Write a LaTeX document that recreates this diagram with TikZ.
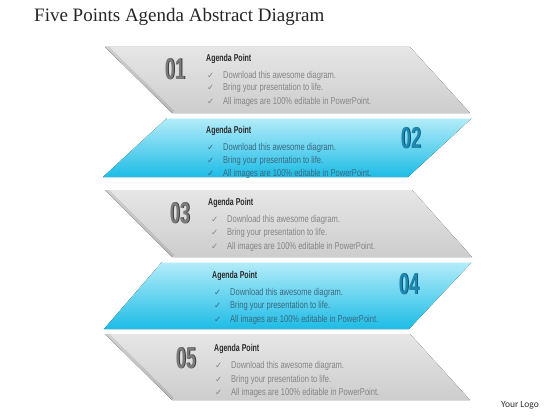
\documentclass[tikz,border=0pt]{standalone}
\usepackage{fontspec}
\setmainfont{Liberation Serif}
\newfontfamily\cond[FakeStretch=0.76]{Liberation Sans}
\newfontfamily\condb[FakeStretch=0.7]{Liberation Sans Bold}
\newfontfamily\numf[FakeStretch=0.6]{Liberation Sans Bold}
\newfontfamily\symf{DejaVu Sans}
\newfontfamily\logof{Carlito}
\definecolor{grayA}{HTML}{E6E6E6}
\definecolor{grayB}{HTML}{CDCDCD}
\definecolor{blueA}{HTML}{B4ECF9}
\definecolor{blueB}{HTML}{1DBCE6}
\definecolor{numgray}{HTML}{7A7A7A}
\definecolor{numgrayd}{HTML}{3E3E3E}
\definecolor{numblue}{HTML}{1E88B0}
\definecolor{numblued}{HTML}{0F5573}
\definecolor{txtgray}{HTML}{858585}
\definecolor{txtblue}{HTML}{3A6A80}
\definecolor{headc}{HTML}{2A2A2A}
\tikzset{
  x=1pt,y=-1pt,
  grayband/.style={top color=grayA,bottom color=grayB,draw=none},
  blueband/.style={top color=blueA,bottom color=blueB,draw=none},
  head/.style={anchor=base west,inner sep=0pt,font=\condb\fontsize{10}{11}\selectfont,text=headc},
  item/.style={anchor=base west,inner sep=0pt,font=\cond\fontsize{9.9}{11}\selectfont},
  chk/.style={anchor=base west,inner sep=0pt,font=\symf\fontsize{8.5}{9}\selectfont},
  numtxt/.style={anchor=center,inner sep=0pt,font=\numf\fontsize{30}{31}\selectfont}
}
\begin{document}
\begin{tikzpicture}
\useasboundingbox[fill=white] (0,0) rectangle (560,420);
% title
\node[anchor=west,inner sep=0pt,font=\fontsize{19}{20}\selectfont,text=black!85] (title) at (34,17) {Five Points Agenda Abstract Diagram};
% bands
\fill[grayband] (105,47) -- (410,47) -- (470,113) -- (172,113) -- cycle;
\fill[blueband] (167,118) -- (472,118) -- (408,177) -- (103,177) -- cycle;
\fill[grayband] (105,190) -- (412,190) -- (472,257) -- (172,257) -- cycle;
\fill[blueband] (162,262) -- (472,262) -- (409,329) -- (104,329) -- cycle;
\fill[grayband] (105,334) -- (410,334) -- (470,400) -- (172,400) -- cycle;
% shadows along gray left edges
\begin{scope}
\clip (105,47) -- (410,47) -- (470,113) -- (172,113) -- cycle;
\draw[line width=6pt,black,opacity=0.1] (105,47) -- (172,113);
\end{scope}
\begin{scope}
\clip (105,190) -- (412,190) -- (472,257) -- (172,257) -- cycle;
\draw[line width=6pt,black,opacity=0.1] (105,190) -- (172,257);
\end{scope}
\begin{scope}
\clip (105,334) -- (410,334) -- (470,400) -- (172,400) -- cycle;
\draw[line width=6pt,black,opacity=0.1] (105,334) -- (172,400);
\end{scope}
% blue top highlight lines
\draw[white,opacity=0.6,line width=1pt] (167,118.5) -- (472,118.5);
\draw[white,opacity=0.6,line width=1pt] (162,262.5) -- (472,262.5);
% numbers (dark edge copy, then face)
\node[numtxt,text=numgrayd] (s1) at (175.8,69.6) {01};
\node[numtxt,text=numgray] (n1) at (175,69) {01};
\node[numtxt,text=numblued] (s2) at (411.8,138.6) {02};
\node[numtxt,text=numblue] (n2) at (411,138) {02};
\node[numtxt,text=numgrayd] (s3) at (180.8,213.6) {03};
\node[numtxt,text=numgray] (n3) at (180,213) {03};
\node[numtxt,text=numblued] (s4) at (409.8,284.6) {04};
\node[numtxt,text=numblue] (n4) at (409,284) {04};
\node[numtxt,text=numgrayd] (s5) at (186.8,358.6) {05};
\node[numtxt,text=numgray] (n5) at (186,358) {05};
% band 1 text
\node[head] (h1) at (206,62) {Agenda Point};
\node[chk,text=txtgray] (c1a) at (207,78) {✓};
\node[chk,text=txtgray] (c1b) at (207,91) {✓};
\node[chk,text=txtgray] (c1c) at (207,105) {✓};
\node[item,text=txtgray] (t1a) at (223,78) {Download this awesome diagram.};
\node[item,text=txtgray] (t1b) at (223,91) {Bring your presentation to life.};
\node[item,text=txtgray] (t1c) at (223,105) {All images are 100\% editable in PowerPoint.};
% band 2 text
\node[head] (h2) at (206,133) {Agenda Point};
\node[chk,text=txtblue] (c2a) at (207,150) {✓};
\node[chk,text=txtblue] (c2b) at (207,163) {✓};
\node[chk,text=txtblue] (c2c) at (207,176) {✓};
\node[item,text=txtblue] (t2a) at (223,150) {Download this awesome diagram.};
\node[item,text=txtblue] (t2b) at (223,163) {Bring your presentation to life.};
\node[item,text=txtblue] (t2c) at (223,176) {All images are 100\% editable in PowerPoint.};
% band 3 text
\node[head] (h3) at (208,205) {Agenda Point};
\node[chk,text=txtgray] (c3a) at (211,222) {✓};
\node[chk,text=txtgray] (c3b) at (211,235) {✓};
\node[chk,text=txtgray] (c3c) at (211,249) {✓};
\node[item,text=txtgray] (t3a) at (227,222) {Download this awesome diagram.};
\node[item,text=txtgray] (t3b) at (227,235) {Bring your presentation to life.};
\node[item,text=txtgray] (t3c) at (227,249) {All images are 100\% editable in PowerPoint.};
% band 4 text
\node[head] (h4) at (212,278) {Agenda Point};
\node[chk,text=txtblue] (c4a) at (214,295) {✓};
\node[chk,text=txtblue] (c4b) at (214,308) {✓};
\node[chk,text=txtblue] (c4c) at (214,322) {✓};
\node[item,text=txtblue] (t4a) at (230,295) {Download this awesome diagram.};
\node[item,text=txtblue] (t4b) at (230,308) {Bring your presentation to life.};
\node[item,text=txtblue] (t4c) at (230,322) {All images are 100\% editable in PowerPoint.};
% band 5 text
\node[head] (h5) at (214,351) {Agenda Point};
\node[chk,text=txtgray] (c5a) at (215,368) {✓};
\node[chk,text=txtgray] (c5b) at (215,382) {✓};
\node[chk,text=txtgray] (c5c) at (215,395) {✓};
\node[item,text=txtgray] (t5a) at (231,368) {Download this awesome diagram.};
\node[item,text=txtgray] (t5b) at (231,382) {Bring your presentation to life.};
\node[item,text=txtgray] (t5c) at (231,395) {All images are 100\% editable in PowerPoint.};
% logo
\node[anchor=center,inner sep=0pt,font=\logof\fontsize{9.5}{10}\selectfont,text=black!80] (logo) at (520,405) {Your Logo};
\end{tikzpicture}
\end{document}
